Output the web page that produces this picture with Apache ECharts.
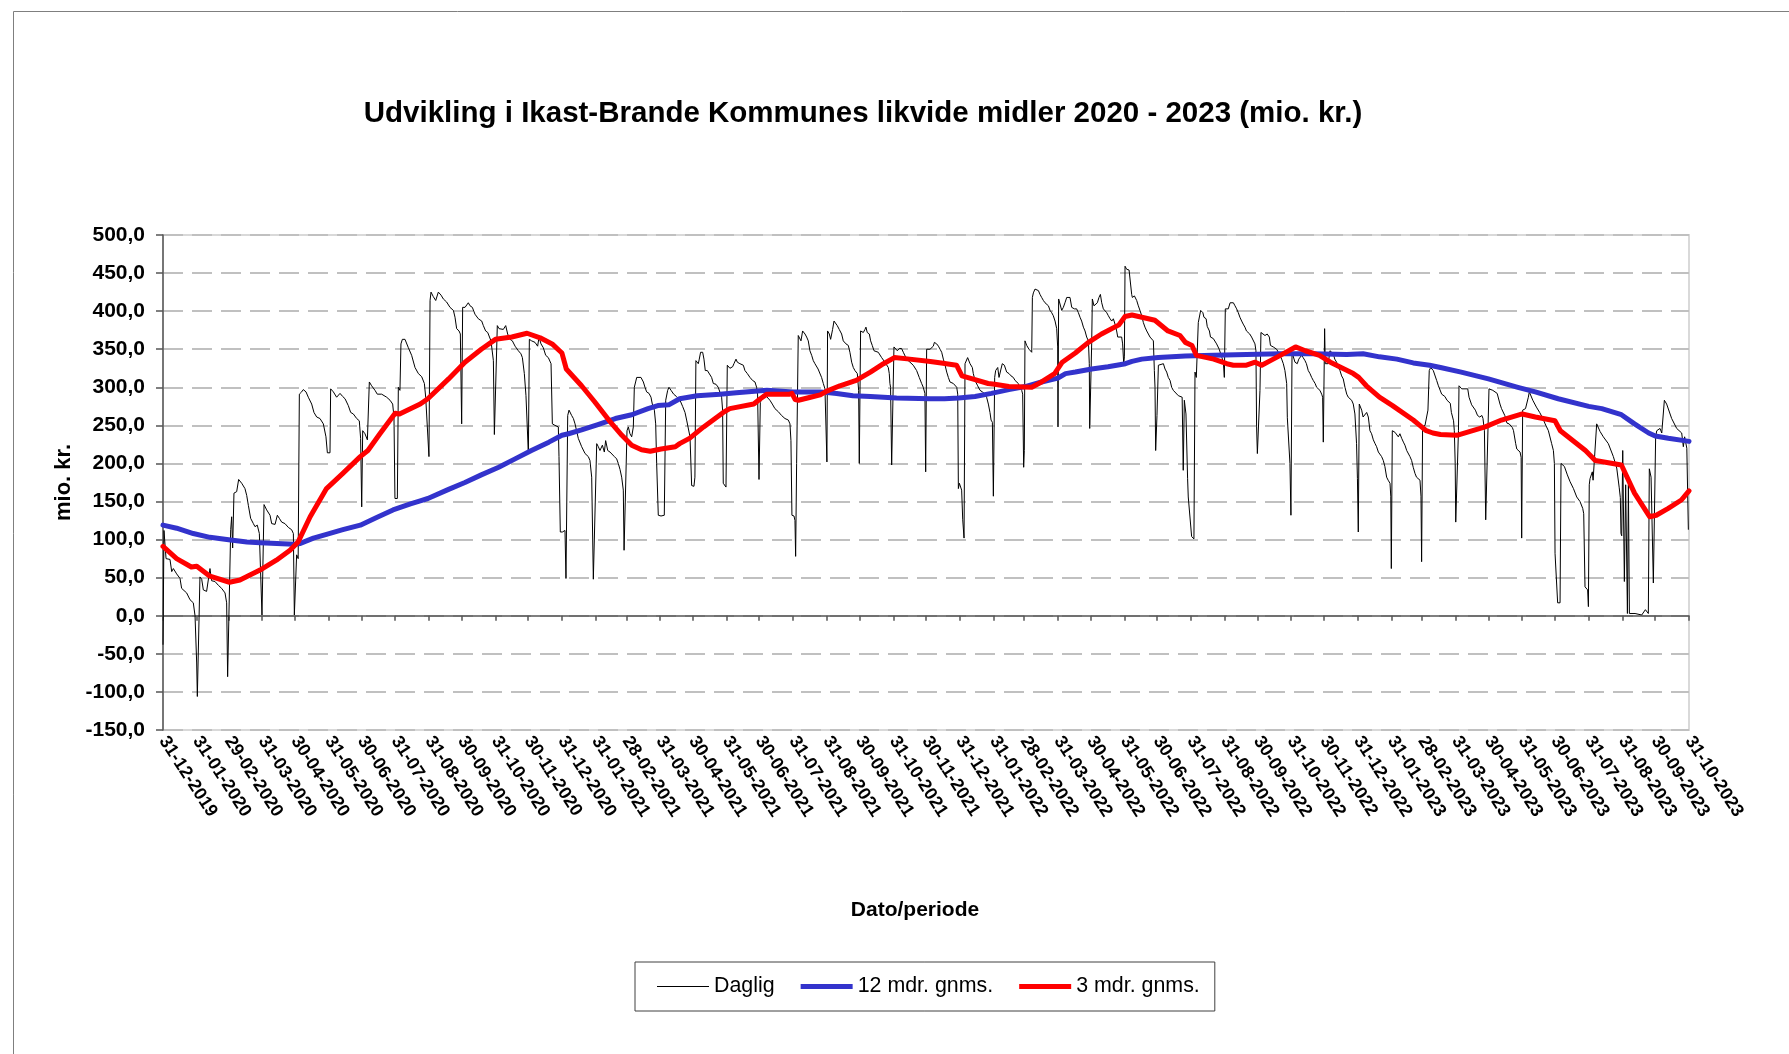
<!DOCTYPE html>
<html>
<head>
<meta charset="utf-8">
<title>Likvide midler</title>
<script src="https://cdn.jsdelivr.net/npm/echarts@6.0.0/dist/echarts.min.js"></script>
<style>
    html, body { margin: 0; padding: 0; background: #fff; }
    #main { width: 1789px; height: 1054px; }
</style>
</head>
<body>
<div id="main"></div>
<script>
// maanedsultimo - labels paa x-aksen
var monthLabels = ['31-12-2019', '31-01-2020', '29-02-2020', '31-03-2020', '30-04-2020', '31-05-2020',
    '30-06-2020', '31-07-2020', '31-08-2020', '30-09-2020', '31-10-2020', '30-11-2020', '31-12-2020',
    '31-01-2021', '28-02-2021', '31-03-2021', '30-04-2021', '31-05-2021', '30-06-2021', '31-07-2021',
    '31-08-2021', '30-09-2021', '31-10-2021', '30-11-2021', '31-12-2021', '31-01-2022', '28-02-2022',
    '31-03-2022', '30-04-2022', '31-05-2022', '30-06-2022', '31-07-2022', '31-08-2022', '30-09-2022',
    '31-10-2022', '30-11-2022', '31-12-2022', '31-01-2023', '28-02-2023', '31-03-2023', '30-04-2023',
    '31-05-2023', '30-06-2023', '31-07-2023', '31-08-2023', '30-09-2023', '31-10-2023'];

var yTicks = [-150, -100, -50, 0, 50, 100, 150, 200, 250, 300, 350, 400, 450, 500];

// [dag efter 31-12-2019, mio. kr.]
var daglig = [
    [0, -38], [0.9, 112], [2.8, 75], [6.4, 74], [8, 58], [9.5, 62], [12.5, 55], [15.6, 49], [17.1, 36], [21.7, 30],
    [24.8, 21], [27.8, 17], [29.4, 0], [30.9, -62], [31.5, -106], [33.3, -106], [33.9, 51], [35.5, 48], [37, 34],
    [40, 32], [43.1, 62], [44.6, 46], [47.7, 45], [50.8, 40], [53.8, 36], [56.9, 30], [58.4, 17], [59.3, -80],
    [60.9, -80], [62.1, 113], [63, 130], [63.9, 89], [65.1, 161], [67.6, 163], [69.4, 179], [72.2, 174], [75.2, 167],
    [76.8, 158], [78.3, 145], [80.4, 128], [82.9, 121], [84.4, 117], [86.5, 119], [88.4, 108], [90.2, 108],
    [90.8, 1], [91.4, 1], [92.7, 146], [95.1, 139], [98.2, 132], [99.7, 121], [102.8, 120], [104.9, 132],
    [106.7, 128], [108.9, 123], [111.9, 121], [115, 116], [118, 113], [119.6, 108], [120.5, 1], [121.4, 1],
    [122.6, 80], [124, 75], [125.1, 291], [127.2, 294], [128.7, 297], [131.2, 294], [133.3, 287], [136.4, 278],
    [138.5, 267], [141, 261], [144, 259], [147.1, 252], [149.5, 235], [150.8, 214], [153.2, 214], [153.8, 298],
    [156.3, 294], [159.3, 287], [162.4, 292], [164.8, 288], [167, 285], [170, 276], [172.2, 267], [174.6, 265],
    [177.7, 259], [180.1, 256], [181.3, 233], [182.3, 143], [183.2, 243], [185.3, 239], [187.5, 231], [189.3, 307],
    [191.4, 302], [194.5, 296], [196.6, 291], [200.6, 291], [205.2, 287], [208.3, 283], [210.7, 278], [211.9, 261],
    [212.8, 154], [215, 154], [215.9, 300], [217.4, 296], [218.3, 357], [219.6, 363], [222, 363], [225.1, 352],
    [228.1, 342], [231.2, 326], [234.3, 318], [237.3, 314], [239.8, 305], [241, 287], [242.8, 287], [244, 209],
    [245, 414], [245.9, 425], [248, 419], [250.2, 414], [252.6, 425], [255.1, 421], [257.2, 416], [260.2, 412],
    [263.3, 405], [266.4, 401], [267.9, 392], [269.4, 377], [271.6, 374], [272.8, 370], [274, 252], [274.9, 405],
    [277.1, 405], [278.6, 403], [280.1, 411], [281.7, 407], [283.8, 405], [286.2, 396], [289.3, 390], [292.4, 387],
    [293.9, 381], [296, 374], [297.9, 372], [300.9, 361], [303.1, 335], [304, 238], [305.8, 238], [306.7, 381],
    [308.3, 377], [310.1, 379], [312.2, 376], [314.4, 381], [316.2, 370], [318.4, 363], [320.5, 361], [323, 354],
    [326, 348], [328.4, 344], [329.7, 339], [331.5, 318], [333, 289], [334.6, 289], [335.2, 213], [336.1, 363],
    [338.2, 361], [341.3, 359], [343.7, 354], [345, 366], [346.8, 357], [348.9, 352], [351.1, 342], [353.5, 339],
    [355.1, 337], [356, 331], [357.2, 252], [359.6, 250], [361.2, 248], [362.7, 248], [363.3, 209], [364.5, 110],
    [366.4, 110], [368.8, 112], [369.7, 49], [370.3, 49], [371.3, 263], [372.5, 270], [373.7, 268], [374.9, 263],
    [376.5, 259], [378, 252], [381, 233], [384.1, 222], [387.2, 213], [390.2, 209], [391.7, 204], [393.3, 182],
    [394.8, 48], [396.6, 48], [397.9, 226], [399.4, 222], [400.9, 217], [403.1, 224], [404.9, 215], [406.1, 230],
    [408, 217], [410.1, 215], [411.6, 213], [414.1, 209], [416.2, 206], [417.7, 200], [419.3, 192], [420.8, 182],
    [422.3, 165], [423, 86], [424.8, 86], [425.7, 243], [426.9, 248], [428.4, 239], [430, 235], [431.5, 248],
    [432.4, 300], [433.6, 307], [434.6, 313], [436.1, 315], [438.5, 313], [440.7, 307], [442.2, 300], [443.7, 294],
    [445.9, 292], [447.7, 287], [448.9, 278], [450.8, 270], [452, 252], [452.9, 200], [454.4, 132], [456.9, 131],
    [459.9, 132], [461.2, 283], [463, 296], [464.2, 300], [466.1, 296], [468.5, 291], [471, 288], [474.3, 283],
    [476.7, 275], [478.9, 267], [480.4, 257], [482.2, 255], [483.5, 235], [485, 171], [487.1, 170], [488, 182],
    [488.9, 335], [490, 333], [491.1, 331], [492, 337], [493.2, 346], [495.1, 346], [496.3, 337], [497.5, 322],
    [499.4, 322], [501.2, 320], [503.3, 313], [504.9, 305], [507.3, 304], [509.4, 300], [511, 298], [512.5, 287],
    [513.4, 270], [514, 174], [515.6, 174], [516.5, 169], [517.7, 329], [519, 327], [520.1, 325], [522.6, 327],
    [523.8, 331], [525.7, 337], [526.9, 333], [529.3, 331], [530.8, 333], [532.4, 329], [533.9, 322], [536.1, 318],
    [538.5, 313], [540.9, 309], [543.1, 307], [544.6, 300], [545.5, 290], [546.8, 179], [548, 280], [550.7, 291],
    [553, 289], [556.8, 283], [559, 278], [561.4, 272], [564.5, 268], [567.5, 263], [570.6, 259], [573.7, 257],
    [575.2, 252], [576.1, 230], [577, 132], [578.9, 131], [579.8, 125], [580.4, 78], [581.3, 200], [582.8, 368],
    [584.4, 366], [585.3, 361], [586.8, 374], [589, 370], [590.5, 366], [592, 361], [593.5, 348], [595.1, 342],
    [596.6, 335], [598.1, 331], [599.7, 329], [601, 324], [602.7, 322], [604.2, 313], [605.8, 305], [607.3, 298],
    [608.2, 296], [609.1, 202], [609.7, 374], [611.3, 370], [612.5, 363], [614.3, 376], [615.6, 387], [617.1, 385],
    [618.6, 381], [620.4, 376], [622.6, 370], [624.1, 361], [626.6, 357], [628.7, 355], [630.2, 346], [631.8, 333],
    [633.3, 326], [634.8, 322], [637, 318], [638.2, 296], [638.8, 200], [640, 374], [641.2, 374], [642.5, 372],
    [644, 376], [644.9, 379], [646.1, 372], [648, 370], [649.2, 361], [650.7, 355], [652.3, 348], [654.1, 348],
    [656.2, 346], [657.8, 344], [659.3, 339], [660.8, 337], [662.3, 333], [663.9, 331], [665.4, 326], [666.3, 318],
    [666.9, 305], [667.5, 300], [668.5, 198], [670, 197], [670.6, 353], [672.1, 353], [673.7, 348], [675.5, 351],
    [677.6, 351], [679.2, 346], [682.2, 337], [685.3, 333], [688.3, 329], [691.4, 322], [693.8, 313], [696, 305],
    [697.5, 300], [699, 292], [699.7, 189], [700.6, 350], [702.2, 348], [703.7, 350], [705.2, 352], [706.7, 354],
    [707.7, 359], [709.8, 357], [711.4, 354], [712.9, 350], [714.4, 346], [715.9, 337], [717.5, 329], [719, 320],
    [720.5, 313], [722, 307], [723.5, 305], [725.1, 305], [726.6, 303], [728.2, 300], [729.1, 291], [729.7, 167],
    [730.6, 174], [732, 174], [732.7, 165], [733.7, 126], [734.9, 102], [735.8, 331], [737.3, 333], [738.2, 339],
    [739.3, 337], [740.4, 331], [741.3, 333], [742.5, 326], [743.4, 318], [745, 309], [747.4, 302], [749.6, 296],
    [751.7, 294], [754.1, 291], [755.6, 287], [757.2, 278], [758.7, 267], [759.7, 257], [760.9, 254], [761.8, 157],
    [762.4, 157], [763, 313], [763.9, 322], [765.8, 326], [767, 313], [768.8, 324], [770, 331], [771.9, 329],
    [774, 320], [776.2, 318], [778, 315], [780.1, 313], [781.7, 309], [783.2, 307], [784.7, 305], [786.2, 300],
    [787.8, 296], [788.7, 291], [789.6, 195], [790.2, 217], [790.8, 361], [792.4, 355], [794.5, 350], [797, 346],
    [797.6, 418], [798.5, 424], [800, 429], [801.6, 429], [803.1, 427], [804.6, 422], [806.1, 418], [807.7, 414],
    [809.2, 411], [810.7, 411], [812.3, 407], [813.8, 401], [815.3, 398], [816.8, 394], [818.4, 387], [819.9, 377],
    [820.8, 353], [821.1, 248], [821.7, 416], [823, 414], [824.5, 401], [826, 405], [827.5, 411], [829.1, 418],
    [830.6, 420], [832.1, 418], [833.7, 405], [836.1, 403], [838.2, 403], [839.8, 398], [841.3, 392], [842.8, 387],
    [844.4, 379], [845.9, 374], [847.4, 366], [849, 361], [849.8, 331], [850.2, 246], [851.4, 246], [852, 357],
    [852.6, 416], [854.1, 407], [855.7, 405], [857.2, 411], [858.7, 418], [860, 422], [861.2, 411], [862.7, 403],
    [864.2, 401], [865.8, 398], [867.3, 394], [868.9, 390], [870.4, 387], [871.9, 390], [873.4, 383], [874.9, 374],
    [875.9, 366], [879.5, 366], [880.4, 357], [881.4, 331], [882, 340], [882.6, 459], [884.1, 455], [886.3, 454],
    [888.1, 453], [888.7, 422], [889.3, 418], [891.2, 420], [893.3, 414], [894.8, 407], [896.3, 401], [897.9, 394],
    [899.4, 385], [900.9, 379], [902.5, 374], [904, 370], [905.5, 366], [907, 366], [908.6, 361], [909.5, 322],
    [910.1, 300], [910.7, 217], [911.9, 263], [913.2, 329], [917.8, 331], [919.3, 324], [920.8, 320], [922.3, 313],
    [923.9, 309], [925.4, 300], [926.9, 296], [928.5, 294], [931.5, 289], [933, 291], [935, 287], [936, 191],
    [937, 283], [938.5, 265], [940, 180], [940.6, 156], [942, 156], [943.7, 104], [945.8, 101], [946.8, 320],
    [948, 313], [949.8, 385], [952, 401], [954, 398], [955, 392], [957, 390], [958, 380], [960, 374], [961, 366],
    [963.6, 364], [966.6, 357], [969, 350], [970.3, 348], [971.5, 339], [972.8, 333], [973.7, 313], [974.6, 403],
    [976, 401], [977.3, 403], [979, 411], [980.4, 413], [982, 411], [983.5, 407], [985, 403], [986.5, 398],
    [988, 392], [989.6, 387], [991, 383], [992.6, 379], [994, 374], [995.7, 372], [997, 370], [998.7, 366],
    [1000, 364], [1001.8, 357], [1002.7, 348], [1003.3, 248], [1004, 213], [1005.5, 213], [1006.4, 296],
    [1007.3, 372], [1009, 370], [1011, 368], [1013, 370], [1015, 366], [1016, 355], [1018.6, 353], [1021.7, 350],
    [1023, 348], [1024.7, 342], [1026.3, 337], [1027.8, 331], [1029.3, 322], [1030.9, 305], [1031.5, 260],
    [1033.3, 258], [1033.9, 200], [1034.8, 132], [1035.8, 346], [1037, 344], [1038.5, 333], [1039.4, 331],
    [1040.6, 331], [1042, 337], [1043, 339], [1044.6, 342], [1046, 339], [1047.7, 335], [1049, 331], [1050.7, 322],
    [1052.3, 318], [1053.8, 313], [1055.3, 309], [1057, 305], [1058.4, 300], [1060, 298], [1061.4, 296], [1063, 291],
    [1063.9, 287], [1064.5, 228], [1065.7, 377], [1066.3, 331], [1067.6, 329], [1069, 331], [1070.6, 348],
    [1072, 350], [1073.7, 344], [1075, 337], [1076.7, 333], [1078.3, 326], [1079.8, 322], [1081.3, 315],
    [1082.8, 311], [1084.4, 300], [1086, 291], [1087.4, 287], [1089, 287], [1090.5, 283], [1092, 278], [1093.5, 265],
    [1095, 226], [1095.8, 180], [1096.6, 110], [1097.5, 278], [1099.7, 270], [1101, 261], [1102.7, 259],
    [1104.3, 267], [1105.8, 261], [1107.3, 243], [1108.8, 239], [1110.4, 231], [1112, 226], [1113.4, 222],
    [1115, 215], [1116.5, 213], [1118, 209], [1119.5, 204], [1121, 196], [1122.6, 182], [1124, 178], [1125.7, 174],
    [1126.4, 157], [1126.9, 62], [1127.8, 243], [1128.7, 241], [1130.2, 241], [1131.8, 239], [1133.3, 235],
    [1134.8, 239], [1136.4, 233], [1138, 228], [1139.4, 224], [1141, 217], [1142.5, 215], [1144, 209], [1145.5, 204],
    [1147, 195], [1148.6, 187], [1150, 182], [1151.7, 180], [1153.2, 178], [1154.1, 157], [1154.7, 71],
    [1155.6, 248], [1157.8, 250], [1159.3, 252], [1160.5, 270], [1161.7, 322], [1163, 326], [1165.4, 322],
    [1168.5, 309], [1170.1, 302], [1173.1, 291], [1176, 288], [1178, 283], [1181, 279], [1182, 267], [1184, 256],
    [1184.7, 243], [1185.5, 200], [1186, 123], [1187.8, 123], [1188.5, 243], [1189, 302], [1191.5, 298], [1197, 298],
    [1198.2, 287], [1200.6, 277], [1204, 270], [1206, 263], [1208, 261], [1210, 263], [1211, 259], [1212.3, 243],
    [1213.5, 126], [1215.3, 126], [1216.5, 298], [1218, 300], [1220, 296], [1224, 292], [1226.6, 278], [1228, 272],
    [1231, 263], [1233, 253], [1235, 252], [1238, 247], [1239, 243], [1241, 226], [1242, 219], [1245, 215],
    [1246, 208], [1246.5, 102], [1247.4, 270], [1250, 272], [1252.6, 287], [1253.5, 294], [1255, 292],
    [1256.7, 283], [1260, 274], [1263, 267], [1266, 259], [1268, 252], [1271, 243], [1274, 226], [1275.6, 217],
    [1276.5, 200], [1277.1, 82], [1278, 80], [1279.5, 17], [1281.7, 17], [1282.6, 200], [1285.7, 196],
    [1288.4, 185], [1290.9, 176], [1294, 167], [1297, 156], [1300, 150], [1302.5, 141], [1303.4, 134],
    [1304.6, 38], [1307, 34], [1307.7, 12], [1308.5, 172], [1309.2, 180], [1311.3, 189], [1312, 178],
    [1313.8, 176], [1315.3, 252], [1318.4, 242], [1321.4, 235], [1326, 226], [1330.6, 209], [1333.7, 194],
    [1336, 168], [1337, 155], [1337.6, 108], [1338.3, 105], [1339.2, 217], [1340.7, 45], [1341.9, 172],
    [1343.5, 3], [1344.4, 172], [1345.3, 3], [1350.5, 3], [1356.6, 1], [1360, 8], [1362.7, 3], [1363.6, 193],
    [1365.2, 182], [1367.3, 43], [1368.8, 43], [1369.4, 235], [1370.4, 243], [1373.4, 246], [1375, 240],
    [1377.4, 283], [1379.5, 278], [1384.1, 259], [1388.7, 246], [1393.3, 240], [1394.8, 222], [1396, 235],
    [1398, 220], [1399.4, 113]
];

// 12 mdr. gennemsnit
var gnms12 = [
    [0, 119], [12.5, 115], [27.8, 108], [43, 103], [62, 99.5], [77, 97], [89, 96], [120, 94], [126, 95], [138, 102],
    [150, 107], [165, 113], [181, 119], [196, 129], [211, 139], [227, 147], [236, 151], [243, 154], [262, 166],
    [277, 175], [292, 185], [308, 195], [323, 206], [338, 217], [354, 228], [366, 237], [372, 239], [384, 244],
    [399, 251], [415, 259], [430, 264], [445, 272], [454, 276], [464, 277], [474, 285], [490, 289], [511, 291],
    [526, 293], [554, 296], [578, 294], [603, 294], [618, 292], [633, 289], [649, 288], [673, 286], [704, 285],
    [717, 285], [730, 286], [745, 288], [760, 292], [776, 297], [791, 301], [806, 307], [821, 312], [828, 318],
    [837, 320], [852, 324], [867, 327], [883, 331], [889, 334], [898, 337], [913, 339], [938, 341], [964, 342],
    [994, 343], [1025, 344], [1055, 344], [1086, 343], [1101, 344], [1116, 340], [1132, 337], [1147, 332],
    [1162, 329], [1172, 326], [1191, 320], [1216, 311], [1243, 300], [1259, 294], [1280, 285], [1308, 275],
    [1320, 272], [1338, 264], [1350, 252], [1363, 240], [1369, 236], [1381, 233], [1400, 229]
];

// 3 mdr. gennemsnit
var gnms3 = [
    [0, 91], [12.5, 75], [26, 64], [31, 65], [43, 52], [61, 44], [70.6, 47], [89, 60], [104, 73], [116.5, 86],
    [124, 97], [135, 130], [150, 167], [165, 187], [181, 209], [188, 217], [199, 239], [213, 266], [217, 265],
    [236, 278], [243, 285], [262, 311], [277, 333], [292, 350], [305, 363], [320, 366], [334, 371], [346, 365],
    [357, 357], [366, 345], [370, 324], [384, 302], [396, 281], [409, 257], [421, 237], [430, 224], [439, 218],
    [447, 216], [457, 219], [470, 222], [474, 226], [483, 233], [496, 248], [514, 267], [520, 272], [542, 278],
    [548, 285], [554, 291], [575, 291], [577, 292], [580, 284], [583, 283], [594, 287], [603, 290], [609, 295],
    [621, 302], [636, 309], [649, 320], [661, 331], [671, 339], [685, 337], [704, 334], [714, 332], [728, 329],
    [733, 315], [745, 310], [757, 305], [763, 304], [776, 301], [797, 300], [806, 307], [818, 318], [825, 333],
    [837, 345], [849, 359], [861, 370], [877, 382], [882.6, 393], [889, 395], [898, 392], [910, 388], [922, 374],
    [933, 368], [938, 359], [944, 355], [948, 342], [964, 337], [976, 331], [982, 329], [994, 329], [1002, 333],
    [1008, 329], [1016, 335], [1025, 342], [1039, 353], [1048, 348], [1061, 342], [1071, 333], [1092, 318],
    [1097, 313], [1104, 302], [1116, 287], [1128, 276], [1147, 257], [1153, 250], [1159, 243], [1165, 240],
    [1172, 238], [1187, 237], [1213, 248], [1228, 257], [1247, 265], [1259, 261], [1277, 256], [1282, 243],
    [1305, 217], [1314, 204], [1338, 198], [1350, 161], [1364, 130], [1370, 132], [1381, 141], [1393, 152],
    [1400, 164]
];

function dagNr(s) {
    var p = s.split('-');
    return Math.round((Date.UTC(+p[2], +p[1] - 1, +p[0]) - Date.UTC(2019, 11, 31)) / 86400000);
}
var tickDays = monthLabels.map(dagNr);
var labelByDay = {};
monthLabels.forEach(function (s, i) { labelByDay[tickDays[i]] = s; });

var fontName = '"Liberation Sans", Arial, sans-serif';

var dom = document.getElementById('main');
var myChart = echarts.init(dom, null, { renderer: 'canvas' });
var option = {
    backgroundColor: '#fff',
    animation: false,
    textStyle: { fontFamily: fontName, color: '#000' },
    title: {
        text: 'Udvikling i Ikast-Brande Kommunes likvide midler 2020 - 2023 (mio. kr.)',
        left: 863,
        top: 99,
        textAlign: 'center',
        padding: 0,
        textStyle: { fontFamily: fontName, fontSize: 29.5, fontWeight: 'bold', color: '#000' }
    },
    graphic: [{
        type: 'rect',
        left: 11, top: 9,
        shape: { width: 1800, height: 1100 },
        style: { fill: 'none', stroke: '#7f7f7f', lineWidth: 1 },
        silent: true
    }],
    legend: {
        left: 635,
        top: 962,
        padding: [14, 15, 14, 22],
        borderColor: '#404040',
        borderWidth: 1,
        itemWidth: 52,
        itemHeight: 14,
        itemGap: 26,
        symbolKeepAspect: true,
        itemStyle: { borderWidth: 0 },
        textStyle: { fontFamily: fontName, fontSize: 21.4, color: '#000' },
        data: [
            { name: 'Daglig', icon: 'path://M0,0H52V1.2H0Z', itemStyle: { color: '#000', borderWidth: 0 } },
            { name: '12 mdr. gnms.', icon: 'path://M0,0H52V5H0Z', itemStyle: { color: '#3333cc', borderWidth: 0 } },
            { name: '3 mdr. gnms.', icon: 'path://M0,0H52V5H0Z', itemStyle: { color: '#ff0000', borderWidth: 0 } }
        ]
    },
    grid: {
        left: 163,
        right: 100,
        top: 235,
        bottom: 324,
        outerBoundsMode: 'none',
        show: true,
        borderColor: '#d9d9d9',
        borderWidth: 2,
        backgroundColor: '#fff'
    },
    xAxis: {
        type: 'value',
        min: 0,
        max: 1400,
        name: 'Dato/periode',
        nameLocation: 'middle',
        nameGap: 170,
        nameTextStyle: { fontFamily: fontName, fontSize: 21, fontWeight: 'bold', color: '#000', padding: [0, 22, 0, 0] },
        axisLine: { lineStyle: { color: '#555', width: 1.5 } },
        axisTick: { customValues: tickDays, length: 5, lineStyle: { color: '#555', width: 1.5 } },
        axisLabel: {
            customValues: tickDays,
            rotate: -57,
            margin: 8,
            fontFamily: fontName,
            fontSize: 18,
            fontWeight: 'bold',
            color: '#000',
            formatter: function (v) { return labelByDay[v] || ''; }
        },
        splitLine: { show: false }
    },
    yAxis: {
        type: 'value',
        min: yTicks[0],
        max: yTicks[yTicks.length - 1],
        interval: 50,
        name: 'mio. kr.',
        nameLocation: 'middle',
        nameGap: 87,
        nameRotate: 90,
        nameTextStyle: { fontFamily: fontName, fontSize: 22, fontWeight: 'bold', color: '#000' },
        axisLine: { show: true, lineStyle: { color: '#555', width: 1.5 } },
        axisTick: { show: true, length: 7, lineStyle: { color: '#555', width: 1.5 } },
        axisLabel: {
            margin: 18,
            fontFamily: fontName,
            fontSize: 21,
            fontWeight: 'bold',
            color: '#000',
            formatter: function (v) { return v.toFixed(1).replace('.', ','); }
        },
        splitLine: { show: true, lineStyle: { color: '#c0c0c0', width: 2, type: [20, 9] } }
    },
    series: [{
        name: 'Daglig',
        type: 'line',
        data: daglig,
        symbol: 'none',
        showSymbol: false,
        lineStyle: { color: '#000', width: 1 },
        itemStyle: { color: '#000' }
    }, {
        name: '12 mdr. gnms.',
        type: 'line',
        data: gnms12,
        symbol: 'none',
        showSymbol: false,
        lineStyle: { color: '#3333cc', width: 5, join: 'round', cap: 'round' },
        itemStyle: { color: '#3333cc' }
    }, {
        name: '3 mdr. gnms.',
        type: 'line',
        data: gnms3,
        symbol: 'none',
        showSymbol: false,
        lineStyle: { color: '#ff0000', width: 5, join: 'round', cap: 'round' },
        itemStyle: { color: '#ff0000' }
    }]
};
myChart.setOption(option, true);
window.onresize = myChart.resize;
</script>
</body>
</html>
